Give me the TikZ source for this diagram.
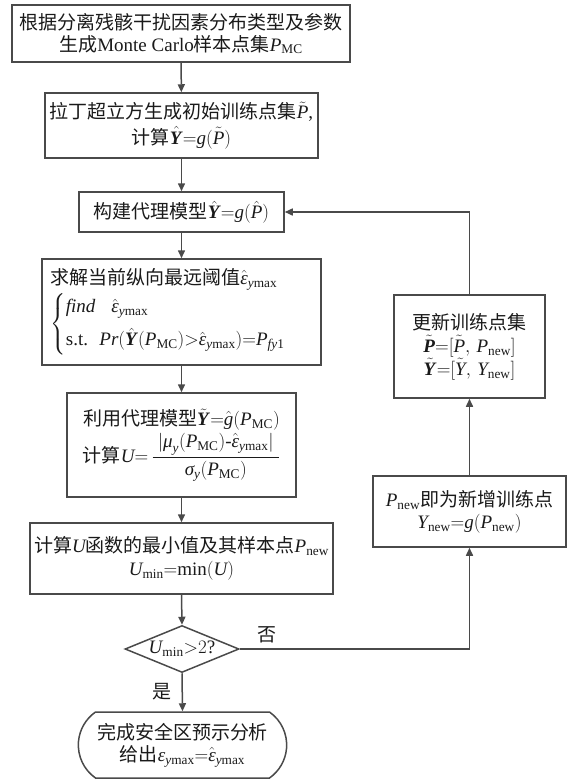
\RequirePackage{fix-cm}
\documentclass[tikz,border=0pt]{standalone}
\usepackage{amsmath}
\usepackage{fontspec}
\setmainfont{Liberation Serif}
\newfontfamily\cjk{Noto Sans CJK SC}
\usetikzlibrary{arrows.meta,shapes.geometric,shapes.misc}
\newcommand\zh[1]{{\cjk #1}}
\newcommand\iv[1]{\textit{#1}}
\newcommand\bv[1]{\textbf{\textit{#1}}}
\newcommand\rmt[1]{\text{#1}}
\newcommand\ymx{\iv{y}\text{max}}
\newcommand\heps{\hat{\iv{ε}}}
\definecolor{linec}{HTML}{4A4A4A}
\definecolor{txtc}{HTML}{1A1A1A}
\tikzset{
  every node/.style={font=\fontsize{19}{25}\selectfont, text=txtc},
  box/.style={draw=linec, line width=1.5pt, align=center, inner sep=4pt},
  arr/.style={draw=linec, line width=1.5pt, -{Triangle[length=8pt,width=7pt]}},
}
\begin{document}
\begin{tikzpicture}[x=1pt,y=-1pt]
\path[use as bounding box] (0,0) rectangle (576,780);

\node[box, minimum width=338pt, minimum height=57pt] (b1) at (181,33.5)
  {\zh{根据分离残骸干扰因素分布类型及参数}\\[-3pt]\zh{生成}Monte Carlo\zh{样本点集}$\iv{P}_{\rmt{MC}}$};

\node[box, minimum width=273pt, minimum height=65pt] (b2) at (181.5,125.5)
  {\zh{拉丁超立方生成初始训练点集}$\tilde{\iv{P}}$,\\\zh{计算}$\hat{\bv{Y}}{=}\iv{g}(\tilde{\iv{P}})$};

\node[box, minimum width=205pt, minimum height=40pt] (b3) at (181.5,212)
  {\zh{构建代理模型}$\hat{\bv{Y}}{=}\iv{g}(\hat{\iv{P}})$};

\node[box, minimum width=279pt, minimum height=106pt, text width=262pt, align=left, inner xsep=8pt] (b4) at (181.5,312)
  {\zh{求解当前纵向最远阈值}$\heps_{\ymx}$\\[2pt]
   $\left\{\begin{array}{@{}l@{\hspace{4pt}}l@{}}\iv{find} & \hspace{12pt}\heps_{\ymx}\\[8pt] \text{s.t.} & \iv{Pr}(\hat{\bv{Y}}(\iv{P}_{\rmt{MC}}){>}\heps_{\ymx}){=}\iv{P}_{\iv{fy}\rmt{1}}\end{array}\right.$};

\node[box, minimum width=229pt, minimum height=104pt] (b5) at (181.5,445)
  {\zh{利用代理模型}$\tilde{\bv{Y}}{=}\hat{\iv{g}}(\iv{P}_{\rmt{MC}})$\\[2pt]
   \zh{计算}$\iv{U}{=}\,\dfrac{\;|\iv{μ}_{\iv{y}}(\iv{P}_{\rmt{MC}})\text{-}\heps_{\ymx}|\;}{\iv{σ}_{\iv{y}}(\iv{P}_{\rmt{MC}})}$};

\node[box, minimum width=301pt, minimum height=71pt] (b6) at (181.5,558.5)
  {\zh{计算}$\iv{U}$\zh{函数的最小值及其样本点}$\iv{P}_{\rmt{new}}$\\[-2pt]$\iv{U}_{\rmt{min}}{=}\text{min}(\iv{U})$};

\node[draw=linec, line width=1.5pt, diamond, aspect=2.4, inner sep=0pt, minimum width=114pt, minimum height=47pt] (dia) at (182,649)
  {$\iv{U}_{\rmt{min}}{>}2$?};

\node[draw=linec, line width=1.5pt, rounded rectangle, rounded rectangle arc length=110, align=center, minimum width=215pt, minimum height=66pt] (term) at (182.5,745)
  {\zh{完成安全区预示分析}\\[-3pt]\zh{给出}$\iv{ε}_{\ymx}{=}\heps_{\ymx}$};

\node[box, minimum width=151pt, minimum height=103pt] (upd) at (469.5,346.5)
  {\zh{更新训练点集}\\[-2pt]$\tilde{\bv{P}}{=}[\tilde{\iv{P}},\,\iv{P}_{\rmt{new}}]$\\[-2pt]$\tilde{\bv{Y}}{=}[\tilde{\iv{Y}},\,\iv{Y}_{\rmt{new}}]$};

\node[box, minimum width=193pt, minimum height=71pt] (pnew) at (469.5,511.5)
  {$\iv{P}_{\rmt{new}}$\zh{即为新增训练点}\\[-3pt]$\iv{Y}_{\rmt{new}}{=}\iv{g}(\iv{P}_{\rmt{new}})$};

\node (yes) at (162,692) {\zh{是}};
\node (no) at (267,635) {\zh{否}};

\draw[arr] (b1) -- (b2);
\draw[arr] (b2) -- (b3);
\draw[arr] (b3) -- (b4);
\draw[arr] (b4) -- (b5);
\draw[arr] (b5) -- (b6);
\draw[arr] (b6.south) -- (dia.north);
\draw[arr] (dia.south) -- (term.north);
\draw[arr] (dia.east) -| (pnew.south);
\draw[arr] (pnew) -- (upd);
\draw[arr] (upd.north) |- (b3.east);
\end{tikzpicture}
\end{document}
